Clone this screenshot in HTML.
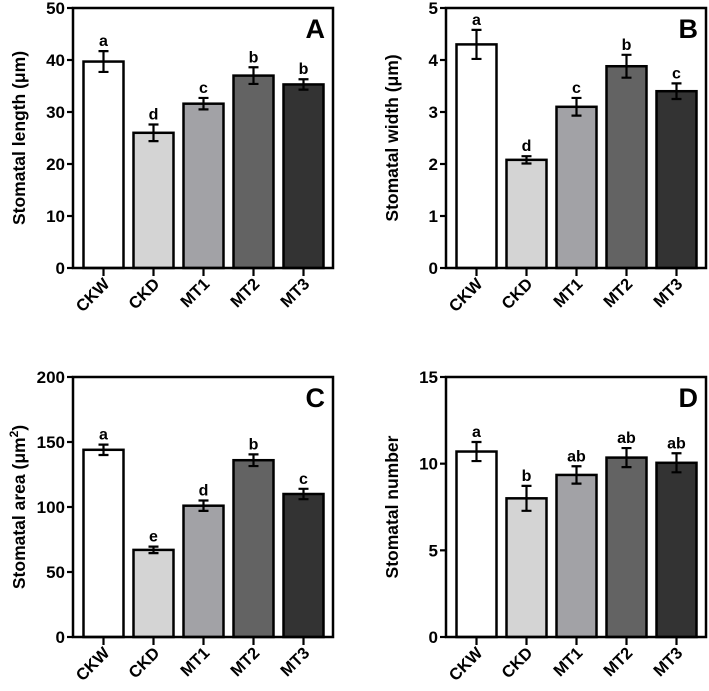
<!DOCTYPE html>
<html><head><meta charset="utf-8"><style>
html,body{margin:0;padding:0;background:#fff;}
svg{display:block;font-family:"Liberation Sans",Arial,sans-serif;font-weight:bold;}
</style></head><body>
<svg id="chart" width="709" height="691" viewBox="0 0 709 691"></svg>
<script>
const categories = ["CKW","CKD","MT1","MT2","MT3"];
const fills = ["#ffffff","#d4d4d4","#a2a2a6","#636363","#333333"];
const lengthVals = [39.7, 26.0, 31.6, 37.0, 35.3];
const lengthErr = [2.0, 1.6, 1.1, 1.6, 1.0];
const lengthLetters = ["a","d","c","b","b"];
const widthVals = [4.3, 2.08, 3.1, 3.88, 3.4];
const widthErr = [0.28, 0.07, 0.17, 0.22, 0.15];
const widthLetters = ["a","d","c","b","c"];
const areaVals = [144, 67, 101, 136, 110];
const areaErr = [4, 2.5, 4, 4.5, 4];
const areaLetters = ["a","e","d","b","c"];
const numberVals = [10.7, 8.0, 9.35, 10.35, 10.05];
const numberErr = [0.55, 0.72, 0.5, 0.55, 0.55];
const numberLetters = ["a","b","ab","ab","ab"];
const lengthTicks = [0,10,20,30,40,50];
const widthTicks = [0,1,2,3,4,5];
const areaTicks = [0,50,100,150,200];
const numberTicks = [0,5,10,15];

const NS="http://www.w3.org/2000/svg";
const svg=document.getElementById('chart');
function mk(tag,attrs,parent,text){const e=document.createElementNS(NS,tag);for(const k in attrs)e.setAttribute(k,attrs[k]);if(text!==undefined)e.textContent=text;(parent||svg).appendChild(e);return e;}

function panel(opt){
  const g=mk('g',{});
  
  
  const L=opt.x,T=opt.y,W=260,H=260,max=opt.ticks[opt.ticks.length-1];
  const ys=v=>T+H-v/max*H;
  const xs=i=>L+30.5+i*50;
  opt.vals.forEach((v,i)=>{
    const b=mk('rect',{x:xs(i)-20,y:ys(v),width:40,height:T+H-ys(v),fill:fills[i],stroke:'#000','stroke-width':2.5},g);
    
    
    const e=opt.err[i],cx=xs(i);
    const eb=mk('path',{d:`M${cx},${ys(v+e)}V${ys(v-e)}M${cx-5},${ys(v+e)}H${cx+5}M${cx-5},${ys(v-e)}H${cx+5}`,stroke:'#000','stroke-width':2.2,fill:'none'},g);
    
    
    const t=mk('text',{x:cx,y:ys(v+e)-5,'text-anchor':'middle','font-size':16},g,opt.letters[i]);
    
    
    mk('line',{x1:cx,x2:cx,y1:T+H,y2:T+H+8,stroke:'#000','stroke-width':2.2},g);
    const lt=mk('text',{transform:`translate(${cx+7},${T+H+17}) rotate(-45)`,'text-anchor':'end','font-size':16.5},g,categories[i]);
    
    
  });
  const f=mk('rect',{x:L,y:T,width:W,height:H,fill:'none',stroke:'#000','stroke-width':2.5},g);
  
  
  opt.ticks.forEach(t=>{
    mk('line',{x1:L-6,x2:L,y1:ys(t),y2:ys(t),stroke:'#000','stroke-width':2.2},g);
    const tl=mk('text',{x:L-8,y:ys(t)+6,'text-anchor':'end','font-size':17},g,t);
    
    
  });
  const yt=mk('text',{transform:`translate(${opt.labelX},${T+H/2}) rotate(-90)`,'text-anchor':'middle','font-size':17.5},g);
  
  
  yt.innerHTML=opt.label;
  const pl=mk('text',{x:L+W-8,y:T+30,'text-anchor':'end','font-size':27},g,opt.letter);
  
  
}
panel({name:'panel-a',x:73,y:8,ticks:lengthTicks,vals:lengthVals,err:lengthErr,letters:lengthLetters,label:'Stomatal length (μm)',labelX:25,letter:'A'});
panel({name:'panel-b',x:446,y:8,ticks:widthTicks,vals:widthVals,err:widthErr,letters:widthLetters,label:'Stomatal width (μm)',labelX:398,letter:'B'});
panel({name:'panel-c',x:73,y:377,ticks:areaTicks,vals:areaVals,err:areaErr,letters:areaLetters,label:'Stomatal area (μm<tspan dy="-7" font-size="12">2</tspan><tspan dy="7">)</tspan>',labelX:25,letter:'C'});
panel({name:'panel-d',x:446,y:377,ticks:numberTicks,vals:numberVals,err:numberErr,letters:numberLetters,label:'Stomatal number',labelX:398,letter:'D'});
</script>
</body></html>
